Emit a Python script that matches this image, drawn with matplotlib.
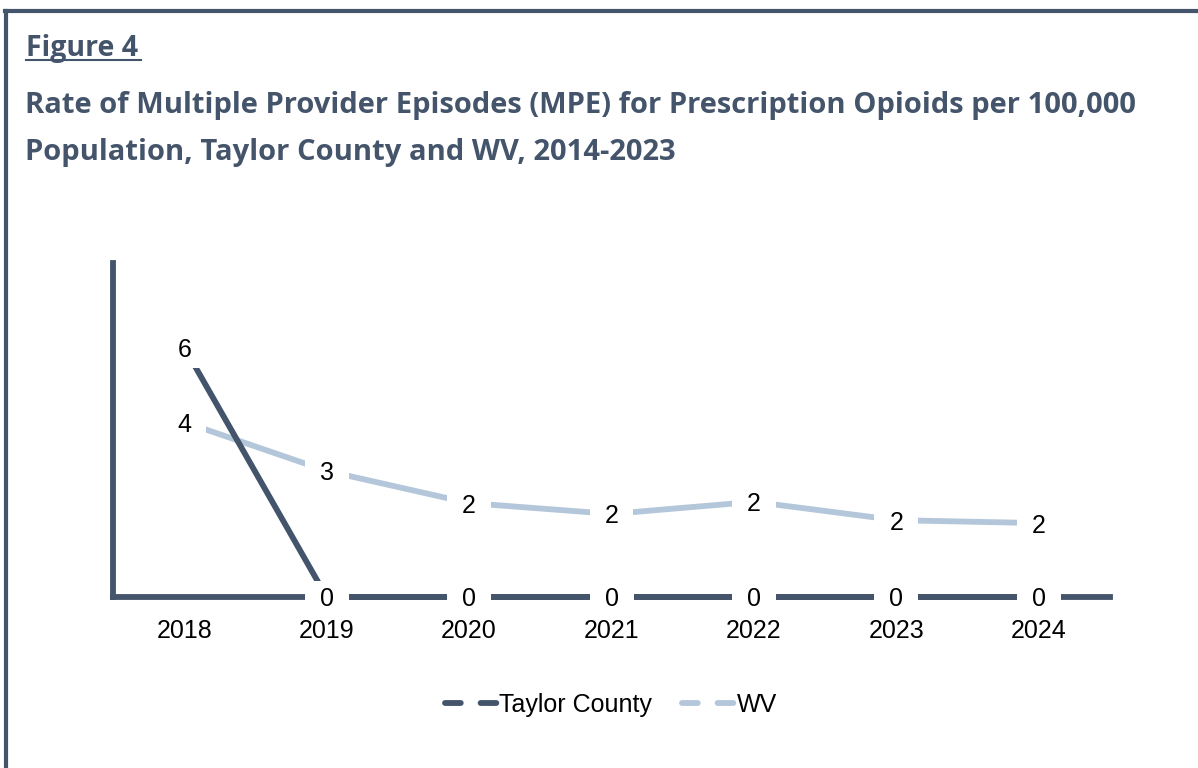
import matplotlib
matplotlib.use("Agg")
import matplotlib.pyplot as plt
from matplotlib.lines import Line2D
from matplotlib.path import Path

years = ["2018", "2019", "2020", "2021", "2022", "2023", "2024"]
taylor = [5.98, 0, 0, 0, 0, 0, 0]
wv = [4.19, 3.02, 2.25, 1.99, 2.28, 1.84, 1.77]
taylor_labels = ["6", "0", "0", "0", "0", "0", "0"]
wv_labels = ["4", "3", "2", "2", "2", "2", "2"]

DARK = "#44546A"
LIGHT = "#B4C7DA"
LW = 4.2
W, H = 1198, 768


def label_box(x0, y0, width, height, mutation_size):
    px = 0.6 * mutation_size
    py = 0.25 * mutation_size
    return Path([(x0 - px, y0 - py), (x0 + width + px, y0 - py),
                 (x0 + width + px, y0 + height + py), (x0 - px, y0 + height + py),
                 (x0 - px, y0 - py)], closed=True)


fig = plt.figure(figsize=(W / 100, H / 100), dpi=100)
fig.patch.set_facecolor("white")

# border (left and top)
fig.add_artist(Line2D([6 / W, 6 / W], [0, 1 - 11 / H], color=DARK, lw=3, transform=fig.transFigure))
fig.add_artist(Line2D([4.5 / W, 1197 / W], [1 - 11 / H, 1 - 11 / H], color=DARK, lw=3, transform=fig.transFigure))

fig.text(26 / W, 1 - 56 / H, "Figure 4", fontsize=20.5, fontweight="bold", color=DARK,
         family="Open Sans", va="baseline", ha="left")
fig.add_artist(Line2D([26 / W, 141 / W], [1 - 60 / H, 1 - 60 / H], color=DARK, lw=1.5,
                      transform=fig.transFigure))
fig.text(25 / W, 1 - 113 / H,
         "Rate of Multiple Provider Episodes (MPE) for Prescription Opioids per 100,000",
         fontsize=21, fontweight="bold", color=DARK, family="Open Sans", va="baseline", ha="left")
fig.text(25 / W, 1 - 160 / H,
         "Population, Taylor County and WV, 2014-2023",
         fontsize=21, fontweight="bold", color=DARK, family="Open Sans", va="baseline", ha="left")

ax = fig.add_axes([113 / W, 171 / H, 997 / W, 334 / H])
x = list(range(len(years)))
ax.plot(x, wv, color=LIGHT, lw=LW, solid_capstyle="butt", zorder=3)
ax.plot(x, taylor, color=DARK, lw=LW, solid_capstyle="butt", zorder=4, clip_on=False)

ax.set_xlim(-0.5, 6.5)
ax.set_ylim(0, 8)
for s in ["top", "right"]:
    ax.spines[s].set_visible(False)
for s in ["left", "bottom"]:
    ax.spines[s].set_color(DARK)
    ax.spines[s].set_linewidth(LW)
ax.set_yticks([])
ax.set_xticks(x)
ax.set_xticklabels(years, fontsize=18, family="Liberation Sans")
ax.tick_params(axis="x", length=0, pad=15.5)

bbox = dict(boxstyle=label_box, fc="white", ec="none")
for i, (v, lab) in enumerate(zip(taylor, taylor_labels)):
    ax.annotate(lab, (i, v), xytext=(0, -1.8), textcoords="offset points", ha="center", va="center",
                fontsize=18, family="Liberation Sans", color="black", bbox=bbox, zorder=6,
                annotation_clip=False)
for i, (v, lab) in enumerate(zip(wv, wv_labels)):
    ax.annotate(lab, (i, v), xytext=(0, -1.8), textcoords="offset points", ha="center", va="center",
                fontsize=18, family="Liberation Sans", color="black", bbox=bbox, zorder=6,
                annotation_clip=False)

dash = (0, (2.7, 3.4))
h1 = Line2D([], [], color=DARK, lw=LW, linestyle=dash, dash_capstyle="round")
h2 = Line2D([], [], color=LIGHT, lw=LW, linestyle=dash, dash_capstyle="round")
leg = fig.legend([h1, h2], ["Taylor County", "WV"], loc="center", bbox_to_anchor=(611 / W, 1 - 705 / H),
                 ncol=2, frameon=False, prop={"family": "Liberation Sans", "size": 18},
                 handlelength=2.08, handletextpad=0.1, columnspacing=1.2, borderpad=0)

fig.savefig("out.png", dpi=100, facecolor="white")
